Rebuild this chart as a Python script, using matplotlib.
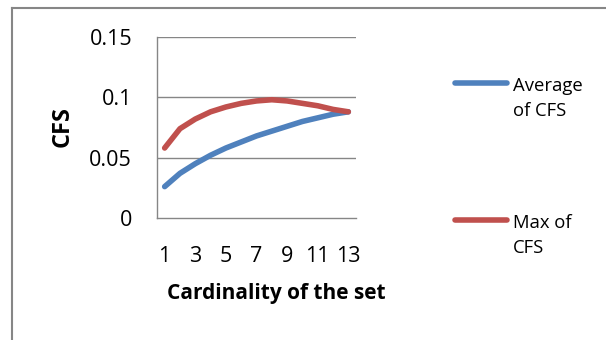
import matplotlib.pyplot as plt
from matplotlib.lines import Line2D

plt.rcParams['font.family'] = ['Open Sans', 'DejaVu Sans']

# Set cardinality and CFS scores
cardinality = list(range(1, 14))
avg_cfs = [0.026, 0.037, 0.045, 0.052, 0.058, 0.063, 0.068,
           0.072, 0.076, 0.080, 0.083, 0.086, 0.088]
max_cfs = [0.058, 0.074, 0.082, 0.088, 0.092, 0.095, 0.097,
           0.098, 0.097, 0.095, 0.093, 0.090, 0.088]
y_ticks = [0, 0.05, 0.1, 0.15]
y_tick_labels = ['0', '0.05', '0.1', '0.15']
x_tick_labels = ['1', '3', '5', '7', '9', '11', '13']

blue = '#4F81BD'
red = '#C0504D'
grid_grey = '#868686'

fig = plt.figure(figsize=(6.06, 3.4), dpi=100)
ax = fig.add_axes([157 / 606, 1 - 218 / 340, 199 / 606, 181 / 340])

ax.plot(cardinality, avg_cfs, color=blue, lw=4, solid_capstyle='round',
        solid_joinstyle='round', zorder=3)
ax.plot(cardinality, max_cfs, color=red, lw=4, solid_capstyle='round',
        solid_joinstyle='round', zorder=3)

ax.set_xlim(0.5, 13.5)
ax.set_ylim(0, 0.15)
ax.set_yticks(y_ticks)
ax.set_yticklabels(y_tick_labels)
ax.set_xticks(cardinality[::2])
ax.set_xticklabels(x_tick_labels)
ax.tick_params(axis='both', length=0, labelsize=15.5)
ax.tick_params(axis='y', pad=18)
ax.tick_params(axis='x', pad=20)

for y in y_ticks[1:]:
    ax.axhline(y, color=grid_grey, lw=1, zorder=1)
for side in ['top', 'right']:
    ax.spines[side].set_visible(False)
for side in ['left', 'bottom']:
    ax.spines[side].set_color(grid_grey)
    ax.spines[side].set_linewidth(1)

fig.text(167 / 606, 1 - 294 / 340, 'Cardinality of the set', fontsize=15,
         fontweight='bold', ha='left', va='center')
fig.text(63 / 606, 1 - 127 / 340, 'CFS', fontsize=17, fontweight='bold',
         rotation=90, ha='center', va='center')

# Legend drawn by hand so the swatch sits on the first text line
for color, label, y in [(blue, 'Average\nof CFS', 83), (red, 'Max of\nCFS', 220)]:
    fig.add_artist(Line2D([455 / 606, 507 / 606], [1 - y / 340, 1 - y / 340],
                          color=color, lw=4, solid_capstyle='round'))
    fig.text(513 / 606, 1 - (y - 6) / 340, label, fontsize=13.3,
             ha='left', va='top', linespacing=1.5)

# Chart frame on the left and top
fig.add_artist(Line2D([11.5 / 606, 11.5 / 606], [0, 1 - 7.5 / 340],
                      color=grid_grey, lw=1.5))
fig.add_artist(Line2D([11.5 / 606, 1], [1 - 7.5 / 340, 1 - 7.5 / 340],
                      color=grid_grey, lw=1.5))

fig.savefig('out.png', dpi=100)
